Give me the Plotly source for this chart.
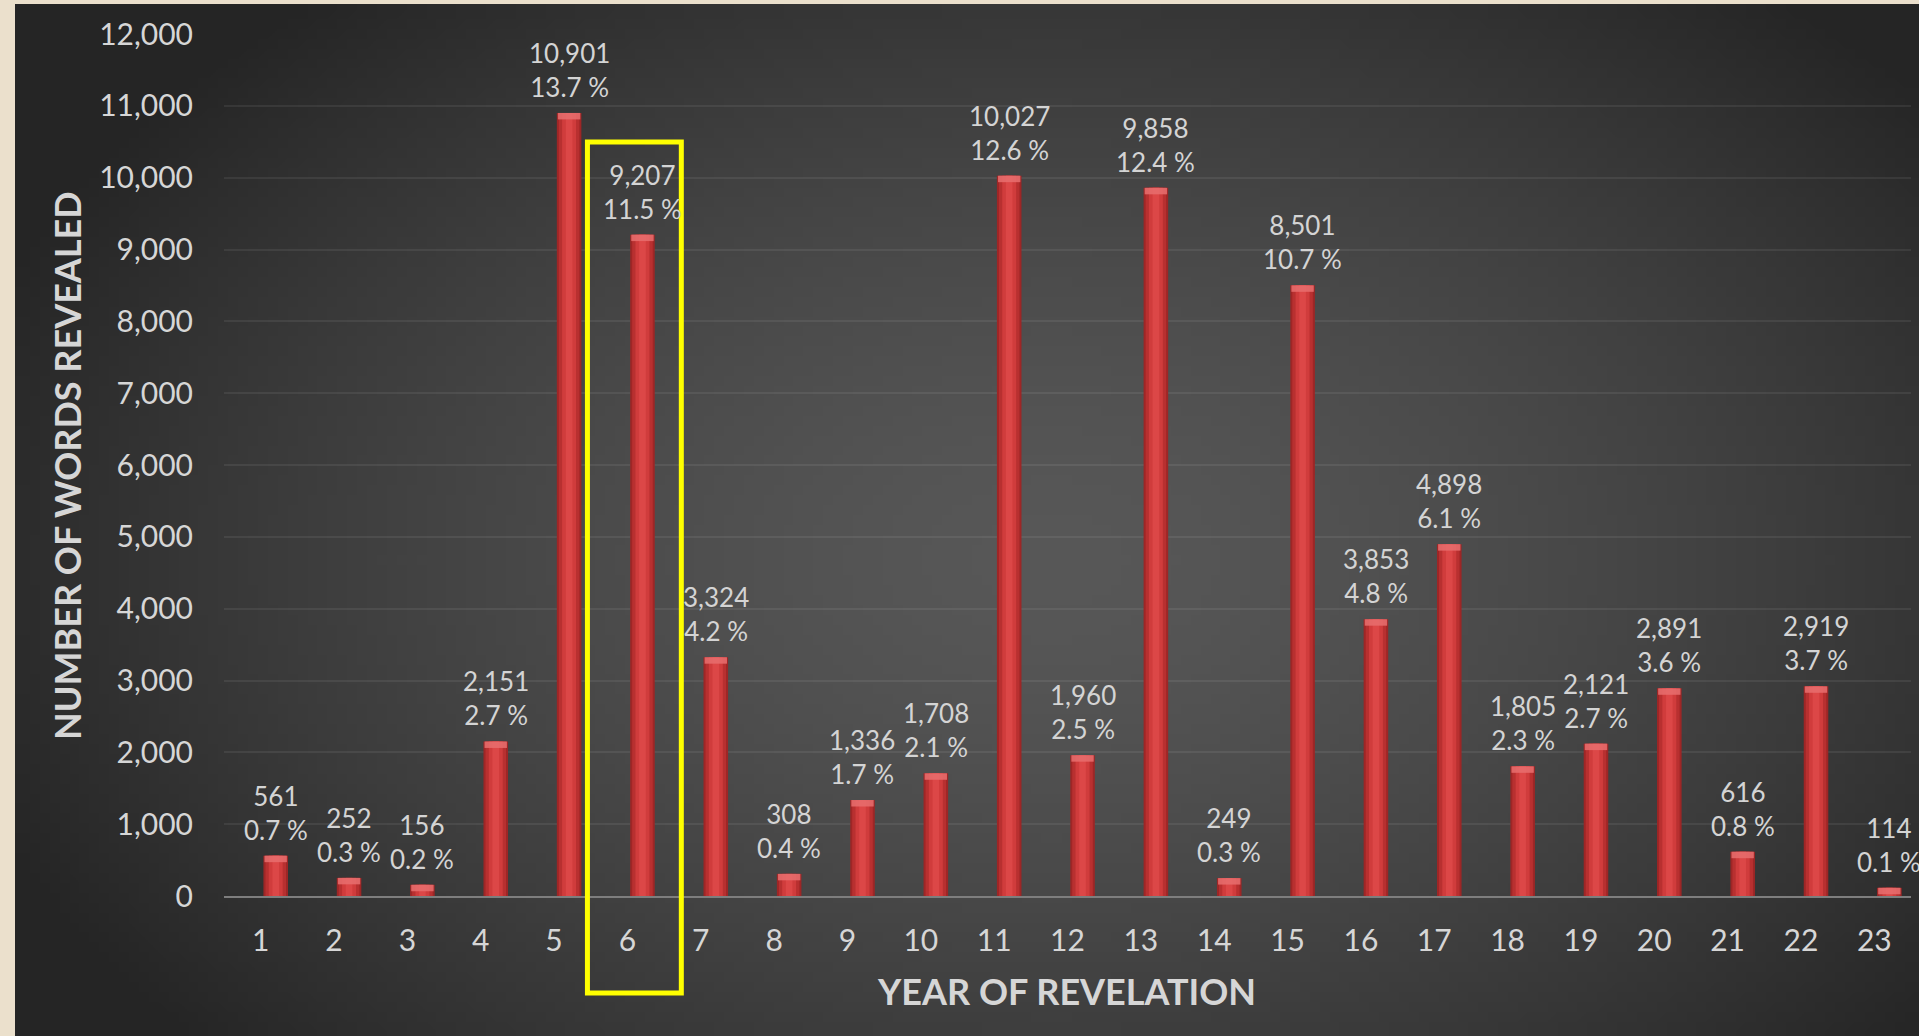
import zlib, struct, base64
import numpy as np
import plotly.graph_objects as go

# ---------------- data ----------------
years = list(range(1, 24))
words = [561, 252, 156, 2151, 10901, 9207, 3324, 308, 1336, 1708, 10027, 1960,
         9858, 249, 8501, 3853, 4898, 1805, 2121, 2891, 616, 2919, 114]
percent_labels = ["0.7 %", "0.3 %", "0.2 %", "2.7 %", "13.7 %", "11.5 %", "4.2 %",
                  "0.4 %", "1.7 %", "2.1 %", "12.6 %", "2.5 %", "12.4 %", "0.3 %",
                  "10.7 %", "4.8 %", "6.1 %", "2.3 %", "2.7 %", "3.6 %", "0.8 %",
                  "3.7 %", "0.1 %"]
y_ticks = list(range(0, 13000, 1000))
highlight_year = 6

# ---------------- geometry (pixels) ----------------
W, H = 1919, 1036
ML, MR, MT, MB = 224, 8, 34, 140
PW, PH = W - ML - MR, H - MT - MB
BAR_SHIFT = 0.205          # bars drawn slightly right of category labels (3D look)
BAR_W = 0.335

def px_x(p):  # pixel -> paper x
    return (p - ML) / PW

def px_y(p):  # pixel -> paper y
    return (H - MB - p) / PH

# ---------------- gradient background image ----------------
gw, gh = 192, 104
panel_x0, panel_y0 = 15, 4
xs = np.linspace(panel_x0, W, gw)
ys = np.linspace(panel_y0, H, gh)
X, Y = np.meshgrid(xs, ys)
d = np.sqrt(((X - 1050) / 1150) ** 2 + ((Y - 560) / 750) ** 2)
d = np.clip(d, 0, 1)
val = 0x58 - (0x58 - 0x25) * d ** 1.5
img = np.clip(val, 0, 255).astype(np.uint8)
rows = []
for r in range(gh):
    row = np.repeat(img[r], 3)
    rows.append(b"\x00" + row.tobytes())
raw = b"".join(rows)

def chunk(t, dta):
    return struct.pack(">I", len(dta)) + t + dta + struct.pack(">I", zlib.crc32(t + dta) & 0xffffffff)

png = (b"\x89PNG\r\n\x1a\n"
       + chunk(b"IHDR", struct.pack(">IIBBBBB", gw, gh, 8, 2, 0, 0, 0))
       + chunk(b"IDAT", zlib.compress(raw, 9))
       + chunk(b"IEND", b""))
bg_uri = "data:image/png;base64," + base64.b64encode(png).decode()

# ---------------- figure ----------------
fig = go.Figure()

# cylinder-like bars: dark outer, lighter inner layers
layers = [(BAR_W, "#9E2626"), (0.28, "#B83030"), (0.19, "#D03C3C"), (0.09, "#DC4747")]
for wdt, col in layers:
    fig.add_trace(go.Bar(
        x=years, y=words, width=wdt, offset=BAR_SHIFT - wdt / 2,
        marker=dict(color=col, line=dict(width=0)),
        hoverinfo="skip", showlegend=False))

# lighter top cap
cap_h = 90
fig.add_trace(go.Bar(
    x=years, y=[cap_h] * len(words), base=[v - cap_h for v in words],
    width=BAR_W - 0.03, offset=BAR_SHIFT - (BAR_W - 0.03) / 2,
    marker=dict(color="rgba(232,110,110,0.85)", line=dict(width=0)),
    hoverinfo="skip", showlegend=False))

annotations = []
for yr, v, p in zip(years, words, percent_labels):
    annotations.append(dict(
        x=yr + BAR_SHIFT, y=v, xref="x", yref="y",
        text=f"{v:,}<br>{p}", showarrow=False, yanchor="bottom", xanchor="center",
        yshift=8, font=dict(family="Lato", size=26, color="#D4D4D4")))

annotations.append(dict(
    x=px_x(67), y=px_y(466), xref="paper", yref="paper", textangle=-90,
    xanchor="center", yanchor="middle",
    text="<b>NUMBER OF WORDS REVEALED</b>", showarrow=False,
    font=dict(family="Lato", size=36, color="#D6D6D6")))
annotations.append(dict(
    x=px_x(1066), y=px_y(991), xref="paper", yref="paper",
    xanchor="center", yanchor="middle",
    text="<b>YEAR OF REVELATION</b>", showarrow=False,
    font=dict(family="Lato", size=36, color="#D6D6D6")))

fig.update_layout(
    width=W, height=H,
    margin=dict(l=ML, r=MR, t=MT, b=MB, pad=0),
    paper_bgcolor="#EBE0CC",
    plot_bgcolor="rgba(0,0,0,0)",
    barmode="overlay",
    showlegend=False,
    annotations=annotations,
    images=[dict(source=bg_uri, xref="paper", yref="paper",
                 x=px_x(panel_x0), y=px_y(panel_y0),
                 sizex=px_x(W) - px_x(panel_x0), sizey=px_y(panel_y0) - px_y(H),
                 xanchor="left", yanchor="top", sizing="stretch", layer="below")],
    shapes=[dict(type="rect", xref="x", yref="paper",
                 x0=highlight_year - 0.545, x1=highlight_year + 0.735,
                 y0=px_y(993), y1=px_y(142),
                 line=dict(color="#FFFF00", width=5), fillcolor="rgba(0,0,0,0)")],
    xaxis=dict(range=[0.5, 23.5], tickvals=years, ticktext=[str(y) for y in years],
               showgrid=False, zeroline=False, showline=True, linecolor="#7E7E7E",
               linewidth=2, ticks="", ticklabelstandoff=17,
               tickfont=dict(family="Lato", size=30, color="#D6D6D6")),
    yaxis=dict(range=[0, 12000], tickvals=y_ticks, tickformat=",",
               showgrid=True, gridcolor="rgba(255,255,255,0.07)", gridwidth=2,
               zeroline=False, showline=False, ticks="", ticklabelstandoff=30,
               tickfont=dict(family="Lato", size=30, color="#D6D6D6")),
)

fig.write_html(
    "out.html",
    config={"displayModeBar": False},
    post_script="document.body.style.margin='0';document.body.style.overflow='hidden';",
)
